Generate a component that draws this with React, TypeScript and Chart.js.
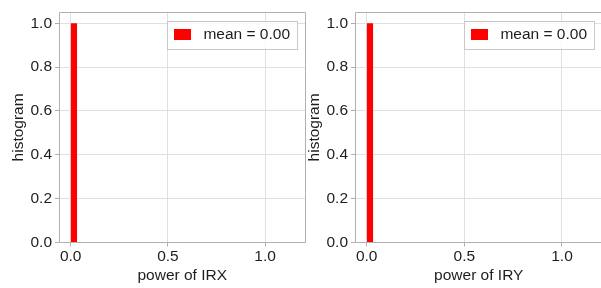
import React, { useEffect, useRef } from "react";
import { Chart, registerables } from "chart.js";

Chart.register(...registerables);

// ---- data ----
const binEdges = [0, 0.0335];
const countsIRX = [1.0];
const countsIRY = [1.0];
const xTicks = [0, 0.5, 1.0];
const yTicks = [0, 0.2, 0.4, 0.6, 0.8, 1.0];
const xRange = [-0.06, 1.2075];
const yRange = [0, 1.05];
const legendLabels = ["mean = 0.00", "mean = 0.00"];
const xTitles = ["power of IRX", "power of IRY"];
const yTitle = "histogram";

const FONT = "'Liberation Sans', Arial, Helvetica, sans-serif";
const FS = 15.5;
const TEXT = "#1e1e1e";
const SPINE = "#b0b0b0";
const GRID = "#e0e0e0";
const RED = "#ff0000";

function histPoints(edges: number[], counts: number[]) {
  const pts: { x: number; y: number }[] = [];
  counts.forEach((c, i) => {
    pts.push({ x: edges[i], y: 0 });
    pts.push({ x: edges[i], y: c });
    pts.push({ x: edges[i + 1], y: c });
    pts.push({ x: edges[i + 1], y: 0 });
  });
  return pts;
}

const al = (p: number) => Math.round(p - 0.5) + 0.5;

const framePlugin = {
  id: "frame",
  afterDatasetsDraw(chart: any) {
    const { ctx, chartArea } = chart;
    const { left, right, top, bottom } = chartArea;
    ctx.save();
    ctx.strokeStyle = SPINE;
    ctx.lineWidth = 1;
    ctx.beginPath();
    ctx.moveTo(al(left), al(bottom));
    ctx.lineTo(al(left), al(top));
    ctx.lineTo(al(right), al(top));
    ctx.lineTo(al(right), al(bottom));
    ctx.closePath();
    ctx.stroke();

    // legend
    const label = chart.data.datasets[0].label as string;
    ctx.font = `${FS}px ${FONT}`;
    const tw = ctx.measureText(label).width;
    const padL = 6.5, patchW = 17, patchH = 11, gap = 12.5, padR = 7;
    const boxW = padL + patchW + gap + tw + padR;
    const boxH = 27.5;
    const bx = right - 8.5 - boxW;
    const by = top + 8.5;
    ctx.fillStyle = "rgba(255,255,255,0.8)";
    ctx.fillRect(bx, by, boxW, boxH);
    ctx.strokeStyle = "#c8c8c8";
    ctx.strokeRect(Math.round(bx) + 0.5, Math.round(by) + 0.5, Math.round(boxW), Math.round(boxH));
    ctx.fillStyle = RED;
    ctx.fillRect(Math.round(bx + padL), Math.round(by + boxH / 2 - patchH / 2), patchW, patchH);
    ctx.fillStyle = TEXT;
    ctx.textBaseline = "middle";
    ctx.textAlign = "left";
    ctx.fillText(label, bx + padL + patchW + gap, by + boxH / 2 + 0.5);
    ctx.restore();
  },
};

function Panel(props: { idx: number; counts: number[]; left: number; width: number; padRight: number }) {
  const ref = useRef<HTMLCanvasElement>(null);
  useEffect(() => {
    const canvas = ref.current!;
    const chart = new Chart(canvas, {
      type: "line",
      data: {
        datasets: [
          {
            label: legendLabels[props.idx],
            data: histPoints(binEdges, props.counts),
            borderWidth: 0,
            borderColor: RED,
            backgroundColor: RED,
            fill: "origin",
            pointRadius: 0,
            tension: 0,
          },
        ],
      },
      options: {
        animation: false,
        responsive: false,
        devicePixelRatio: 1,
        events: [],
        layout: { padding: { top: 3, right: props.padRight, left: 0, bottom: 0 } },
        plugins: { legend: { display: false }, tooltip: { enabled: false } },
        scales: {
          x: {
            type: "linear",
            min: xRange[0],
            max: xRange[1],
            afterBuildTicks: (s: any) => {
              s.ticks = xTicks.map((v) => ({ value: v }));
            },
            afterFit: (s: any) => {
              s.height = 45.5;
            },
            ticks: {
              color: TEXT,
              font: { family: FONT, size: FS },
              padding: 0.5,
              maxRotation: 0,
              callback: (v: any) => Number(v).toFixed(1),
            },
            grid: { color: GRID, tickColor: SPINE, tickLength: 4 },
            border: { display: false },
            title: {
              display: true,
              text: xTitles[props.idx],
              color: TEXT,
              font: { family: FONT, size: FS },
              padding: { top: 0, bottom: 2.7 },
            },
          },
          y: {
            type: "linear",
            min: yRange[0],
            max: yRange[1],
            afterBuildTicks: (s: any) => {
              s.ticks = yTicks.map((v) => ({ value: v }));
            },
            afterFit: (s: any) => {
              s.width = 59;
            },
            ticks: {
              color: TEXT,
              font: { family: FONT, size: FS },
              padding: 3,
              callback: (v: any) => Number(v).toFixed(1),
            },
            grid: { color: GRID, tickColor: SPINE, tickLength: 4 },
            border: { display: false },
            title: {
              display: true,
              text: yTitle,
              color: TEXT,
              font: { family: FONT, size: FS },
              padding: { top: 9, bottom: 0 },
            },
          },
        },
      },
      plugins: [framePlugin],
    });
    return () => chart.destroy();
  }, []);
  return (
    <canvas
      ref={ref}
      width={props.width}
      height={288}
      style={{ position: "absolute", left: props.left, top: 0, width: props.width, height: 288 }}
    />
  );
}

export default function App() {
  return (
    <div style={{ position: "fixed", left: 0, top: 0, width: 601, height: 288, background: "#fff", overflow: "hidden" }}>
      <Panel idx={0} counts={countsIRX} left={0} width={307} padRight={1.5} />
      <Panel idx={1} counts={countsIRY} left={296} width={312} padRight={5.5} />
    </div>
  );
}
